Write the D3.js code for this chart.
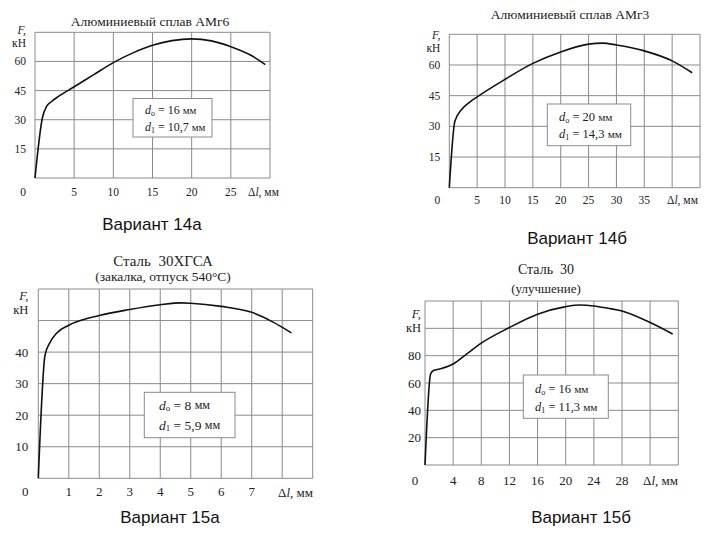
<!DOCTYPE html>
<html><head><meta charset="utf-8">
<script src="https://cdn.jsdelivr.net/npm/d3@7"></script>
<style>body{margin:0;background:#fff}svg{display:block}</style>
</head><body>
<svg id="c" width="720" height="540"></svg>
<script>
// ---------- DATA ----------
const titles14a = ["Алюминиевый сплав АМг6"];
const x14a = [0, 0.94, 1.5, 2, 3, 4.9, 7.5, 10, 12.5, 15, 17.5, 20, 22.5, 25, 27.5, 29.4];
const f14a = [0, 30.9, 37, 39, 42, 46.7, 53.2, 59.4, 64.4, 68.3, 70.7, 71.6, 70.6, 67.6, 63.3, 58.4];
const xTicks14a = [5, 10, 15, 20, 25];
const yTicks14a = [15, 30, 45, 60];
const box14a = ["16", "10,7"];

const titles14b = ["Алюминиевый сплав АМг3"];
const x14b = [0, 1.0, 2.2, 3.5, 5, 10, 15, 20, 25, 27.5, 30, 35, 40, 43.6];
const f14b = [0, 32.5, 38.2, 41.5, 44.4, 53, 60.8, 66.4, 70.2, 70.7, 69.8, 66.9, 62, 56.2];
const xTicks14b = [5, 10, 15, 20, 25, 30, 35];
const yTicks14b = [15, 30, 45, 60];
const box14b = ["20", "14,3"];

const titles15a = ["Сталь  30ХГСА", "(закалка, отпуск 540°С)"];
const x15a = [0, 0.22, 0.38, 0.6, 1, 2, 3, 4, 4.7, 5, 6, 7, 7.7, 8.3];
const f15a = [0, 39, 43, 46, 48.5, 51.6, 53.5, 55, 55.6, 55.5, 54.5, 52.6, 49.5, 46.1];
const xTicks15a = [1, 2, 3, 4, 5, 6, 7];
const yTicks15a = [10, 20, 30, 40];
const box15a = ["8", "5,9"];

const titles15b = ["Сталь  30", "(улучшение)"];
const x15b = [0, 0.8, 1.2, 2.1, 4, 5.9, 8, 12, 16, 20, 22, 24, 26, 28, 32, 35.2];
const f15b = [0, 66.7, 69.1, 70.3, 73.9, 81.2, 89.2, 100.6, 110.3, 115.9, 117.1, 116.4, 114.7, 112.7, 104.2, 95.8];
const xTicks15b = [4, 8, 12, 16, 20, 24, 28];
const yTicks15b = [20, 40, 60, 80];
const box15b = ["16", "11,3"];

const variants = ["Вариант 14а", "Вариант 14б", "Вариант 15а", "Вариант 15б"];

// ---------- DRAW ----------
const svg = d3.select("#c");
const SERIF = "'Liberation Serif','Times New Roman',serif";

function panel(o) {
  const x = d3.scaleLinear().domain([0, o.xMax]).range([o.l, o.r]);
  const y = d3.scaleLinear().domain([0, o.yMax]).range([o.b, o.t]);
  const g = svg.append("g");
  // grid
  g.selectAll(".vx").data(d3.range(0, o.xMax + 1e-9, o.xStep)).join("line")
    .attr("x1", d => x(d)).attr("x2", d => x(d)).attr("y1", o.t).attr("y2", o.b)
    .attr("stroke", "#8a8a8a").attr("stroke-width", 1);
  g.selectAll(".hy").data(d3.range(0, o.yMax + 1e-9, o.yStep)).join("line")
    .attr("y1", d => y(d)).attr("y2", d => y(d)).attr("x1", o.l).attr("x2", o.r)
    .attr("stroke", "#8a8a8a").attr("stroke-width", 1);
  // tick labels
  g.selectAll(".xl").data(o.xTicks).join("text")
    .attr("x", d => x(d)).attr("y", o.b + o.xLabDy)
    .attr("text-anchor", "middle").attr("dominant-baseline", "central")
    .attr("font-family", SERIF).attr("font-size", o.fs).attr("fill", "#222").text(d => d);
  g.selectAll(".yl").data(o.yTicks).join("text")
    .attr("x", o.l - o.yLabDx).attr("y", d => y(d))
    .attr("text-anchor", "end").attr("dominant-baseline", "central")
    .attr("font-family", SERIF).attr("font-size", o.fs).attr("fill", "#222").text(d => d);
  g.append("text").attr("x", o.l - o.zeroDx).attr("y", o.b + o.xLabDy)
    .attr("text-anchor", "middle").attr("dominant-baseline", "central")
    .attr("font-family", SERIF).attr("font-size", o.fs).attr("fill", "#222").text("0");
  // axis names
  const dl = g.append("text").attr("x", o.dlX).attr("y", o.b + o.xLabDy)
    .attr("dominant-baseline", "central")
    .attr("font-family", SERIF).attr("font-size", o.fs).attr("fill", "#222");
  dl.append("tspan").text("Δ");
  dl.append("tspan").attr("font-style", "italic").text("l");
  dl.append("tspan").text(", мм");
  g.append("text").attr("x", o.l - o.yLabDx).attr("y", o.fY)
    .attr("text-anchor", "end").attr("dominant-baseline", "central")
    .attr("font-family", SERIF).attr("font-size", o.afs).attr("font-style", "italic").attr("fill", "#222").text("F,");
  g.append("text").attr("x", o.l - o.yLabDx).attr("y", o.fY + o.fGap)
    .attr("text-anchor", "end").attr("dominant-baseline", "central")
    .attr("font-family", SERIF).attr("font-size", o.afs).attr("fill", "#222").text("кН");
  // titles
  o.titles.forEach((t, i) => {
    g.append("text").attr("x", o.tx).attr("y", o.ty[i])
      .attr("text-anchor", "middle").attr("dominant-baseline", "central")
      .attr("font-family", SERIF).attr("font-size", o.tfs[i]).attr("fill", "#222")
      .attr("xml:space", "preserve").style("white-space", "pre").text(t);
  });
  // curve
  const pts = o.xs.map((v, i) => [v, o.fs_[i]]);
  g.append("path").datum(pts)
    .attr("d", d3.line().x(d => x(d[0])).y(d => y(d[1])).curve(d3.curveMonotoneX))
    .attr("fill", "none").attr("stroke", "#111").attr("stroke-width", 1.6);
  // info box
  g.append("rect").attr("x", o.box[0]).attr("y", o.box[1]).attr("width", o.box[2]).attr("height", o.box[3])
    .attr("fill", "#fff").attr("stroke", "#8a8a8a").attr("stroke-width", 1);
  ["o", "1"].forEach((sub, i) => {
    const t = g.append("text").attr("x", o.bx).attr("y", o.by[i])
      .attr("dominant-baseline", "central")
      .attr("font-family", SERIF).attr("font-size", o.bfs).attr("fill", "#222");
    t.append("tspan").attr("font-style", "italic").text("d");
    t.append("tspan").attr("font-size", o.bfs * 0.65).attr("dy", 3).text(sub);
    t.append("tspan").attr("dy", -3).text(" = " + o.boxVals[i] + " ");
    t.append("tspan").attr("font-size", o.bfs * 0.9).text("мм");
  });
}

panel({l: 35, r: 270, t: 32.3, b: 178, xMax: 30, yMax: 75, xStep: 5, yStep: 15,
  xTicks: xTicks14a, yTicks: yTicks14a, xs: x14a, fs_: f14a, fs: 11.5, afs: 11.5,
  xLabDy: 13.5, yLabDx: 9, zeroDx: 12, dlX: 248, fY: 30, fGap: 13,
  titles: titles14a, tx: 150, ty: [21.5], tfs: [13.5],
  box: [133, 98.5, 79, 38.5], bx: 145, by: [110, 127], bfs: 12, boxVals: box14a});

panel({l: 449.3, r: 700, t: 34.3, b: 187.7, xMax: 45, yMax: 75, xStep: 5, yStep: 15,
  xTicks: xTicks14b, yTicks: yTicks14b, xs: x14b, fs_: f14b, fs: 11.5, afs: 11.5,
  xLabDy: 11.8, yLabDx: 9, zeroDx: 12, dlX: 667, fY: 35, fGap: 13,
  titles: titles14b, tx: 570, ty: [14], tfs: [13.5],
  box: [547.3, 104, 83.4, 41.7], bx: 559, by: [116.7, 134.3], bfs: 12.5, boxVals: box14b});

panel({l: 38.3, r: 312.7, t: 289, b: 478.3, xMax: 9, yMax: 60, xStep: 1, yStep: 10,
  xTicks: xTicks15a, yTicks: yTicks15a, xs: x15a, fs_: f15a, fs: 13, afs: 12.5,
  xLabDy: 13.4, yLabDx: 10, zeroDx: 13, dlX: 278, fY: 296.2, fGap: 14,
  titles: titles15a, tx: 163, ty: [261, 276.7], tfs: [15, 13.5],
  box: [144.3, 392.3, 90.7, 45.4], bx: 159, by: [405, 425], bfs: 13.5, boxVals: box15a});

panel({l: 425, r: 678.3, t: 301, b: 465, xMax: 36, yMax: 120, xStep: 4, yStep: 20,
  xTicks: xTicks15b, yTicks: yTicks15b, xs: x15b, fs_: f15b, fs: 13, afs: 12.5,
  xLabDy: 15, yLabDx: 4, zeroDx: 10, dlX: 643, fY: 313.6, fGap: 14.2,
  titles: titles15b, tx: 546, ty: [269, 288.3], tfs: [14, 13],
  box: [523.3, 375, 85, 43.3], bx: 535, by: [389, 406.7], bfs: 12.5, boxVals: box15b});

// variant captions
const vpos = [[152, 224], [577, 238], [170, 517], [581, 517]];
svg.selectAll(".var").data(variants).join("text")
  .attr("x", (d, i) => vpos[i][0]).attr("y", (d, i) => vpos[i][1])
  .attr("text-anchor", "middle").attr("dominant-baseline", "central")
  .attr("font-family", "'Liberation Sans',Arial,sans-serif").attr("font-size", 17)
  .attr("fill", "#111").text(d => d);
</script>
</body></html>
